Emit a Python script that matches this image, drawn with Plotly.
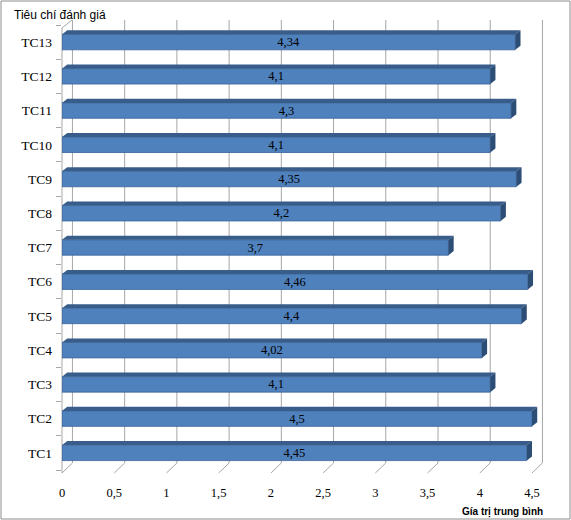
import plotly.graph_objects as go

# -- Data --------------------------------------------------------------------
criteria = ["TC1", "TC2", "TC3", "TC4", "TC5", "TC6", "TC7",
            "TC8", "TC9", "TC10", "TC11", "TC12", "TC13"]
scores = [4.45, 4.5, 4.1, 4.02, 4.4, 4.46, 3.7,
          4.2, 4.35, 4.1, 4.3, 4.1, 4.34]
x_ticks = [0, 0.5, 1, 1.5, 2, 2.5, 3, 3.5, 4, 4.5]

labels = [str(v).replace(".", ",") for v in scores]

# -- Style -------------------------------------------------------------------
BAR_W = 0.45
DX, DY = 0.05, 0.12          # fake 3D depth of the bars (data units)
WALL_DX = 0.1                # shift of the back wall vs. the front ticks
FACE = "#4F81BD"
TOP = "#385D8A"
SIDE = "#2C4D75"
GRID = "#A6A6A6"

L, R, T, B = 62, 571 - 543, 25, 50
PW, PH = 571 - L - R, 520 - T - B
X_MAX = 4.5 + (543 - 532) / ((532 - 62) / 4.5)


def py(px):
    """page pixel row -> paper y"""
    return (520 - B - px) / PH


def px_(px):
    """page pixel column -> paper x"""
    return (px - L) / PW


fig = go.Figure()

fig.add_trace(go.Bar(
    x=scores, y=criteria,
    orientation="h",
    width=BAR_W,
    marker=dict(color=FACE, line=dict(color="#3A639A", width=0.8)),
    text=labels,
    textposition="inside",
    insidetextanchor="middle",
    constraintext="none",
    textangle=0,
    textfont=dict(family="Liberation Serif", size=12.5, color="black"),
    showlegend=False,
    hoverinfo="x+y",
))

shapes = []

# -- Back wall grid + floor diagonals ---------------------------------------
for t in x_ticks:
    shapes.append(dict(type="line", xref="x", yref="paper", layer="below",
                       x0=t + WALL_DX, x1=t + WALL_DX, y0=py(463), y1=py(20),
                       line=dict(color=GRID, width=1)))
    shapes.append(dict(type="line", xref="x", yref="paper", layer="below",
                       x0=t, x1=t + WALL_DX, y0=py(473), y1=py(463),
                       line=dict(color=GRID, width=1)))

# left wall
shapes.append(dict(type="line", xref="paper", yref="paper", layer="below",
                   x0=0, x1=0, y0=py(473), y1=py(28),
                   line=dict(color=GRID, width=1)))
shapes.append(dict(type="line", xref="paper", yref="paper", layer="below",
                   x0=0, x1=px_(72), y0=py(28), y1=py(20),
                   line=dict(color=GRID, width=1)))

# -- 3D caps for each bar ----------------------------------------------------
for i, v in enumerate(scores):
    y_top = i + BAR_W / 2
    y_bot = i - BAR_W / 2
    shapes.append(dict(
        type="path", xref="x", yref="y", layer="above",
        path=f"M 0 {y_top} L {DX} {y_top + DY} L {v + DX} {y_top + DY} L {v} {y_top} Z",
        fillcolor=TOP, line=dict(width=0),
    ))
    shapes.append(dict(
        type="path", xref="x", yref="y", layer="above",
        path=f"M {v} {y_bot} L {v} {y_top} L {v + DX} {y_top + DY} L {v + DX} {y_bot + DY} Z",
        fillcolor=SIDE, line=dict(width=0),
    ))

# chart border
shapes.append(dict(type="rect", xref="paper", yref="paper",
                   x0=px_(1), x1=px_(570), y0=py(519), y1=py(1),
                   line=dict(color="#8C8C8C", width=1), fillcolor="rgba(0,0,0,0)"))

fig.update_layout(
    width=571, height=520,
    margin=dict(l=L, r=R, t=T, b=B),
    paper_bgcolor="white",
    plot_bgcolor="white",
    separators=",.",
    bargap=0.55,
    shapes=shapes,
    xaxis=dict(
        range=[0, X_MAX],
        tickvals=x_ticks,
        showgrid=False,
        zeroline=False,
        showline=False,
        ticks="outside", ticklen=11, tickcolor="rgba(0,0,0,0)",
        tickfont=dict(family="Liberation Serif", size=12.5, color="black"),
    ),
    yaxis=dict(
        type="category",
        categoryorder="array", categoryarray=criteria,
        range=[-0.5, len(criteria) - 0.5],
        tickson="boundaries",
        showgrid=False, zeroline=False,
        showline=False,
        ticks="outside", ticklen=5, tickcolor=GRID,
        ticklabelstandoff=9,
        tickfont=dict(family="Liberation Serif", size=13.5, color="black"),
    ),
    annotations=[
        dict(text="Tiêu chí đánh giá", xref="paper", yref="paper",
             x=px_(12), y=py(15),
             xanchor="left", yanchor="middle", showarrow=False,
             font=dict(family="Liberation Sans", size=12, color="black")),
        dict(text="<b>Gía trị trung bình</b>", xref="paper", yref="paper",
             x=px_(545), y=py(512),
             xanchor="right", yanchor="middle", showarrow=False,
             font=dict(family="Liberation Sans", size=10, color="black")),
    ],
)

fig.write_html("out.html", config={"displayModeBar": False},
               post_script="document.body.style.margin='0';")
